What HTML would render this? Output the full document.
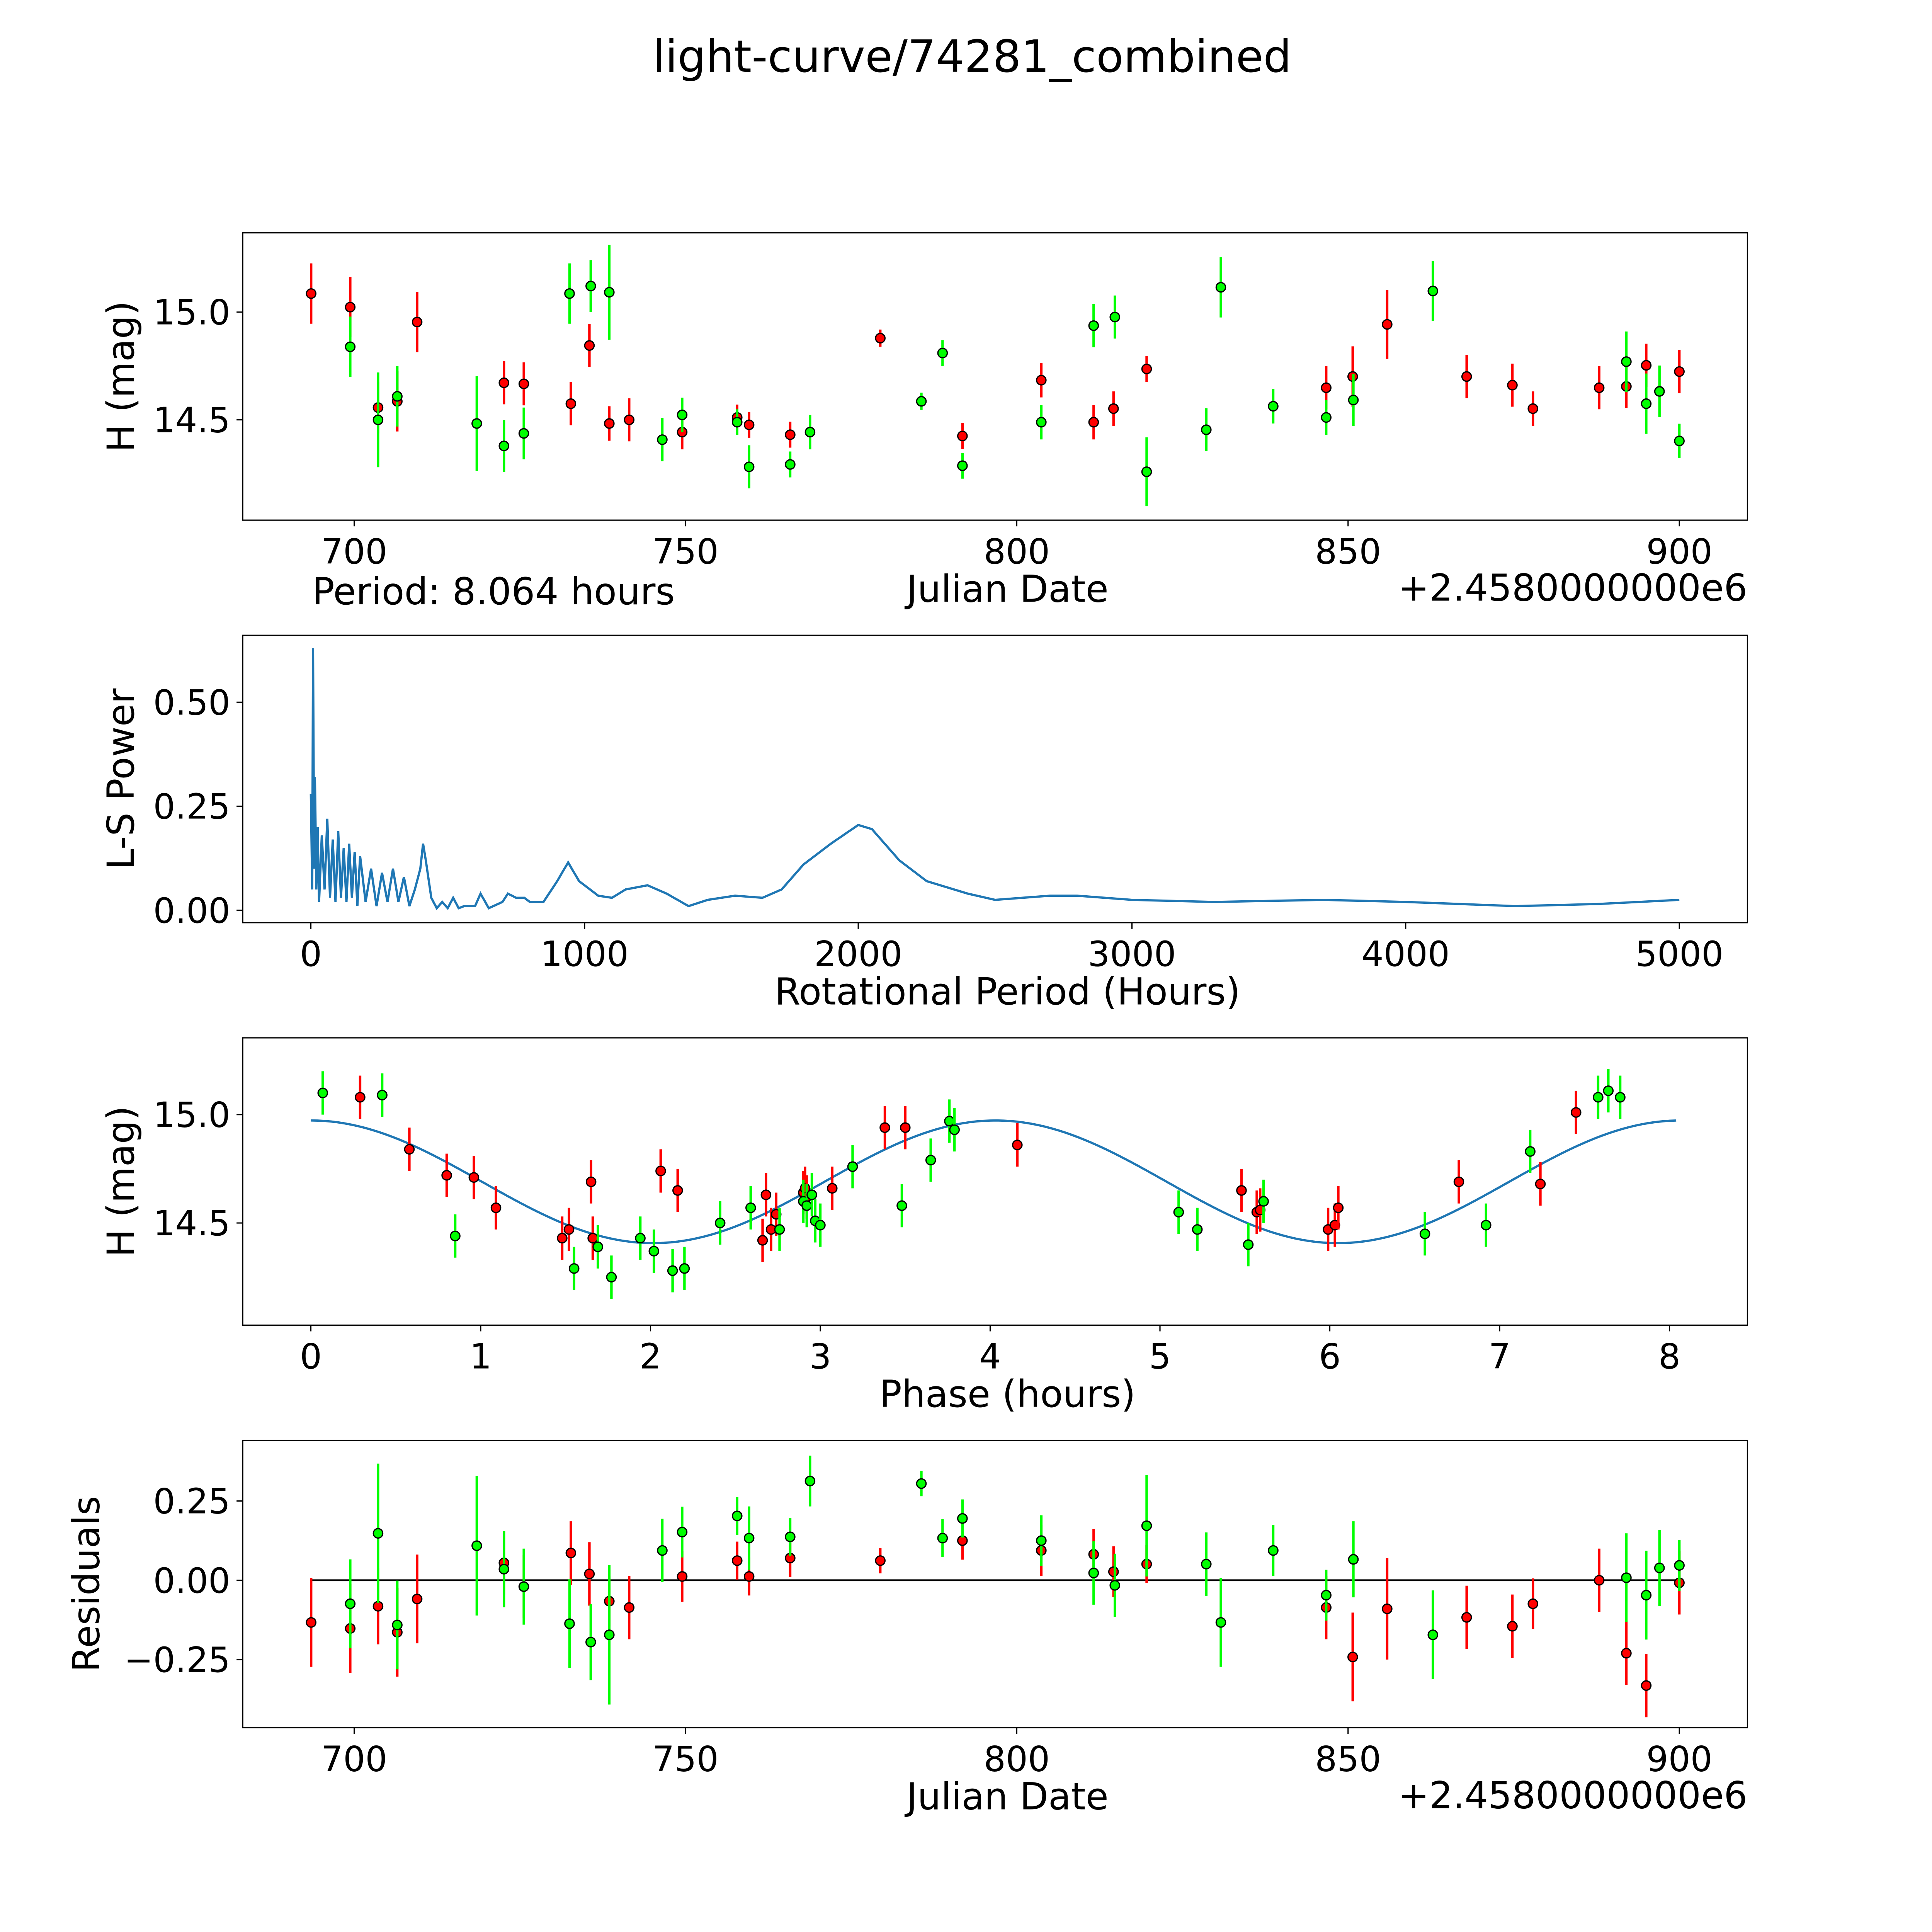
<!DOCTYPE html>
<html><head><meta charset="utf-8">
<style>
html,body{margin:0;padding:0;background:#fff;overflow:hidden;width:100%;height:100%;}
svg{display:block;width:100vw;height:100vh;font-family:"DejaVu Sans","Liberation Sans",sans-serif;}
</style></head>
<body>
<svg id="fig" viewBox="0 0 1560 1560" preserveAspectRatio="none" xmlns="http://www.w3.org/2000/svg">
<rect width="1560" height="1560" fill="#fff"/>
<text x="785" y="58" font-size="36" text-anchor="middle">light-curve/74281_combined</text>
</svg>
<script>
// ---- data ----
const redJD=[693.5,699.4,703.6,706.5,709.5,722.6,725.6,732.7,735.5,738.5,741.5,749.5,757.8,759.6,765.8,779.4,791.8,803.7,811.6,814.6,819.6,846.7,850.7,855.9,867.9,874.8,877.9,887.9,892.0,895.0,900.0];
const redMag=[15.086,15.023,14.557,14.586,14.954,14.672,14.667,14.575,14.845,14.483,14.5,14.443,14.511,14.477,14.431,14.879,14.425,14.684,14.489,14.552,14.736,14.649,14.701,14.943,14.701,14.661,14.552,14.649,14.655,14.753,14.724];
const redErr=[0.07,0.07,0.06,0.07,0.07,0.05,0.05,0.05,0.05,0.04,0.05,0.04,0.03,0.03,0.03,0.02,0.03,0.04,0.04,0.04,0.03,0.05,0.07,0.08,0.05,0.05,0.04,0.05,0.05,0.05,0.05];
const redRes=[-0.133,-0.152,-0.082,-0.164,-0.059,0.055,-0.02,0.086,0.02,-0.066,-0.086,0.012,0.062,0.012,0.07,0.062,0.125,0.094,0.082,0.027,0.051,-0.086,-0.242,-0.09,-0.117,-0.145,-0.074,0,-0.23,-0.332,-0.008];
const greenJD=[699.4,703.6,706.5,718.5,722.6,725.6,732.5,735.7,738.5,746.5,749.5,757.8,759.6,765.8,768.8,785.6,788.8,791.8,803.7,811.6,814.8,819.6,828.6,830.8,838.7,846.7,850.8,862.8,892.0,895.0,897.0,900.0];
const greenMag=[14.839,14.5,14.609,14.483,14.379,14.437,15.086,15.121,15.092,14.408,14.523,14.489,14.282,14.293,14.443,14.586,14.810,14.287,14.489,14.937,14.977,14.259,14.454,15.115,14.563,14.511,14.592,15.098,14.770,14.575,14.632,14.402];
const greenErr=[0.07,0.11,0.07,0.11,0.06,0.06,0.07,0.06,0.11,0.05,0.04,0.03,0.05,0.03,0.04,0.02,0.03,0.03,0.04,0.05,0.05,0.08,0.05,0.07,0.04,0.04,0.06,0.07,0.07,0.07,0.06,0.04];
const greenRes=[-0.074,0.148,-0.141,0.109,0.035,-0.02,-0.137,-0.195,-0.172,0.094,0.152,0.203,0.133,0.137,0.313,0.305,0.133,0.195,0.125,0.023,-0.016,0.172,0.051,-0.133,0.094,-0.047,0.066,-0.172,0.008,-0.047,0.039,0.047];
const redPhase=[0.29,0.58,0.80,0.96,1.09,1.48,1.52,1.66,1.65,2.06,2.16,2.66,2.68,2.71,2.74,2.90,2.91,2.92,3.07,3.38,3.50,4.16,5.48,5.57,5.59,5.99,6.03,6.05,6.76,7.24,7.45];
const redPhaseMag=[15.08,14.84,14.72,14.71,14.57,14.43,14.47,14.43,14.69,14.74,14.65,14.42,14.63,14.47,14.54,14.64,14.66,14.62,14.66,14.94,14.94,14.86,14.65,14.55,14.56,14.47,14.49,14.57,14.69,14.68,15.01];
const greenPhase=[0.07,0.42,0.85,1.55,1.69,1.77,1.94,2.02,2.13,2.20,2.41,2.59,2.76,2.90,2.92,2.95,2.97,3.00,3.19,3.48,3.65,3.76,3.79,5.11,5.22,5.52,5.61,6.56,6.92,7.18,7.58,7.64,7.71];
const greenPhaseMag=[15.10,15.09,14.44,14.29,14.39,14.25,14.43,14.37,14.28,14.29,14.50,14.57,14.47,14.60,14.58,14.63,14.51,14.49,14.76,14.58,14.79,14.97,14.93,14.55,14.47,14.40,14.60,14.45,14.49,14.83,15.08,15.11,15.08];
const lsPeriod=[0,5,8,12,15,20,25,30,40,50,60,70,80,90,100,110,120,130,140,150,160,170,180,200,220,240,260,280,300,320,340,360,380,400,410,420,440,460,480,500,520,540,560,600,620,650,700,720,750,780,800,850,900,940,980,1050,1100,1150,1230,1300,1380,1450,1550,1650,1720,1800,1900,2000,2050,2150,2250,2400,2500,2700,2800,3000,3300,3700,4000,4400,4700,5000];
const lsPower=[0.28,0.05,0.63,0.1,0.32,0.05,0.2,0.02,0.18,0.05,0.22,0.03,0.17,0.02,0.19,0.03,0.15,0.02,0.16,0.03,0.14,0.01,0.13,0.02,0.1,0.01,0.09,0.02,0.1,0.02,0.08,0.01,0.05,0.1,0.16,0.12,0.03,0.005,0.02,0.005,0.03,0.005,0.01,0.01,0.04,0.005,0.02,0.04,0.03,0.03,0.02,0.02,0.07,0.115,0.07,0.035,0.03,0.05,0.06,0.04,0.01,0.025,0.035,0.03,0.05,0.11,0.16,0.205,0.195,0.12,0.07,0.04,0.025,0.035,0.035,0.025,0.02,0.025,0.02,0.01,0.015,0.025];
const jdTicks=[700,750,800,850,900];
const magTicks=[14.5,15.0];
const lsXTicks=[0,1000,2000,3000,4000,5000];
const lsYTicks=[0,0.25,0.5];
const phaseTicks=[0,1,2,3,4,5,6,7,8];
const resTicks=[-0.25,0,0.25];
const fitMean=14.69, fitAmp=0.283, fitPeriod=4.032, period=8.064;

// ---- drawing ----
const svg=document.getElementById('fig');
const NS='http://www.w3.org/2000/svg';
function mk(tag,attrs,parent){const e=document.createElementNS(NS,tag);for(const k in attrs)e.setAttribute(k,attrs[k]);(parent||svg).appendChild(e);return e;}
function lin(d0,d1,p0,p1){return v=>p0+(v-d0)*(p1-p0)/(d1-d0);}
const L=196,R=1411,TF=28,LF=30;

function frame(name,top,bot,xs,xt,xfmt,ys,yt,yfmt,xlabel,ylabel,ylx){
  const g=mk('g',{});
  
  
  const r=mk('rect',{x:L,y:top,width:R-L,height:bot-top,fill:'none',stroke:'#000','stroke-width':1},g);
  
  
  xt.forEach(t=>{const x=xs(t);mk('line',{x1:x,x2:x,y1:bot,y2:bot+5,stroke:'#000'},g);
    const tx=mk('text',{x:x,y:bot+35,'font-size':TF,'text-anchor':'middle'},g);tx.textContent=xfmt(t);
    
    });
  yt.forEach(t=>{const y=ys(t);mk('line',{x1:L-5,x2:L,y1:y,y2:y,stroke:'#000'},g);
    const tx=mk('text',{x:L-10,y:y+10,'font-size':TF,'text-anchor':'end'},g);tx.textContent=yfmt(t);
    
    });
  const xl=mk('text',{x:(L+R)/2+10,y:bot+66,'font-size':LF,'text-anchor':'middle'},g);xl.textContent=xlabel;
  
  
  const cy=(top+bot)/2;
  const yl=mk('text',{x:0,y:0,'font-size':LF,'text-anchor':'middle',transform:`translate(${ylx},${cy}) rotate(-90)`},g);yl.textContent=ylabel;
  
  
  return g;
}
function pts(g,xs,ys,X,Y,E,color,name){
  X.forEach((v,i)=>{const x=xs(v),y=ys(Y[i]);
    if(E){const e=E[i];const l=mk('line',{x1:x,x2:x,y1:ys(Y[i]-e),y2:ys(Y[i]+e),stroke:color,'stroke-width':2},g);
      
      }
    const c=mk('circle',{cx:x,cy:y,r:3.8,fill:color,stroke:'#000','stroke-width':1},g);
    
    
  });
}
const fmt2=v=>(v<0?'\u2212':'')+Math.abs(v).toFixed(2);
const fmt1=v=>v.toFixed(1);
const fmt0=v=>String(v);

// Panel 1
let xs=lin(700,900,286,1356), ys=lin(15.0,14.5,252,339);
let g=frame('light-curve-panel',188,420,xs,jdTicks,fmt0,ys,magTicks,fmt1,'Julian Date','H (mag)',108);
pts(g,xs,ys,redJD,redMag,redErr.map(e=>e*2),'#ff0000','red');
pts(g,xs,ys,greenJD,greenMag,greenErr.map(e=>e*2),'#00ff00','green');
let t=mk('text',{x:1411,y:485,'font-size':LF,'text-anchor':'end'});t.textContent='+2.4580000000e6';


t=mk('text',{x:252,y:488,'font-size':LF});t.textContent='Period: '+period.toFixed(3)+' hours';



// Panel 2
xs=lin(0,5000,251,1356); ys=lin(0,0.5,735,567);
g=frame('periodogram-panel',513,745,xs,lsXTicks,fmt0,ys,lsYTicks,fmt2,'Rotational Period (Hours)','L-S Power',108);
const pl=mk('polyline',{points:lsPeriod.map((p,i)=>xs(p)+','+ys(lsPower[i])).join(' '),fill:'none',stroke:'#1f77b4','stroke-width':1.8},g);



// Panel 3
xs=lin(0,8,251,1348); ys=lin(15.0,14.5,900,987.5);
g=frame('phase-panel',838,1070,xs,phaseTicks,fmt0,ys,magTicks,fmt1,'Phase (hours)','H (mag)',108);
const fp=[];for(let p=0;p<=period;p+=0.04)fp.push(xs(p)+','+ys(fitMean+fitAmp*Math.cos(2*Math.PI*p/fitPeriod)));
const fl=mk('polyline',{points:fp.join(' '),fill:'none',stroke:'#1f77b4','stroke-width':1.8},g);


const pe=v=>0.1;
pts(g,xs,ys,redPhase,redPhaseMag,redPhase.map(pe),'#ff0000','red-phase');
pts(g,xs,ys,greenPhase,greenPhaseMag,greenPhase.map(pe),'#00ff00','green-phase');

// Panel 4
xs=lin(700,900,286,1356); ys=lin(0,0.25,1276,1212);
g=frame('residuals-panel',1163,1395,xs,jdTicks,fmt0,ys,resTicks,fmt2,'Julian Date','Residuals',80);
const zl=mk('line',{x1:xs(693.5),x2:xs(900),y1:ys(0),y2:ys(0),stroke:'#000','stroke-width':1.5},g);


pts(g,xs,ys,redJD,redRes,redErr.map(e=>e*2),'#ff0000','red-residual');
pts(g,xs,ys,greenJD,greenRes,greenErr.map(e=>e*2),'#00ff00','green-residual');
t=mk('text',{x:1411,y:1460,'font-size':LF,'text-anchor':'end'});t.textContent='+2.4580000000e6';


</script>
</body></html>
